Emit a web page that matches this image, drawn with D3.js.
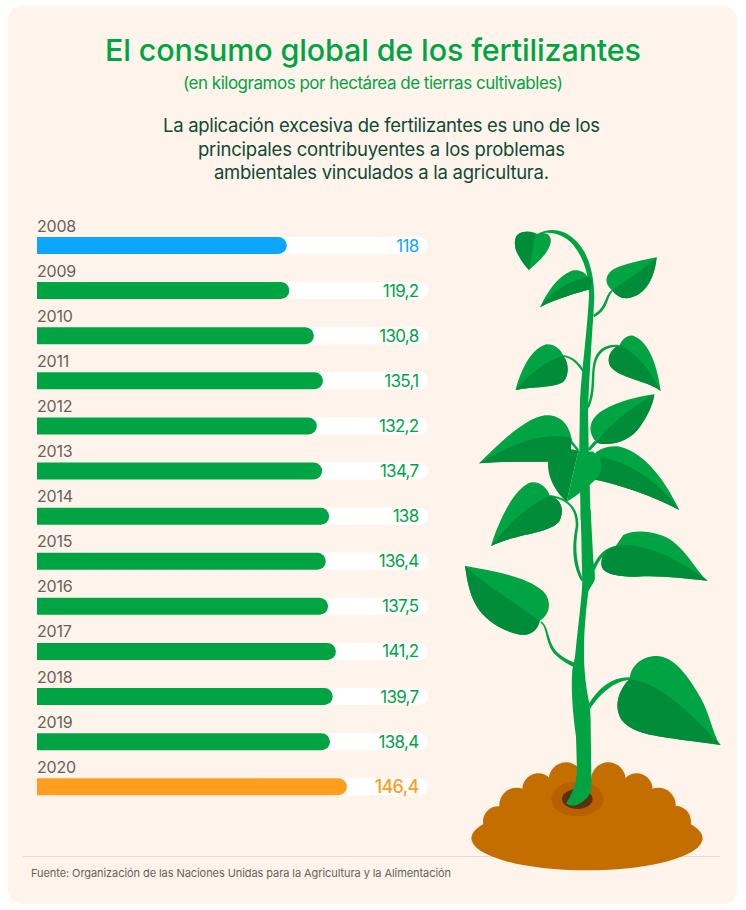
<!DOCTYPE html>
<html>
<head>
<meta charset="utf-8">
<script src="https://cdn.jsdelivr.net/npm/d3@7"></script>
<style>
html,body{margin:0;padding:0;background:#fff}
svg{display:block}
text{font-family:Inter,"Noto Sans",sans-serif}
</style>
</head>
<body>
<div id="chart"></div>
<script>
const years = ['2008','2009','2010','2011','2012','2013','2014','2015','2016','2017','2018','2019','2020']
const values = [118,119.2,130.8,135.1,132.2,134.7,138,136.4,137.5,141.2,139.7,138.4,146.4]
const value_labels = ['118','119,2','130,8','135,1','132,2','134,7','138','136,4','137,5','141,2','139,7','138,4','146,4']
const subtitle_lines = ['La aplicación excesiva de fertilizantes es uno de los','principales contribuyentes a los problemas','ambientales vinculados a la agricultura.']

const green = '#00a443', dark_leaf = '#008c38', blue = '#0da6ff', orange = '#ff9d1e'
const soil = '#c46e00'

function bar_color(i){
    if(i==0) return blue
    if(i==years.length-1) return orange
    return green
}

const svg = d3.select('#chart').append('svg').attr('width',746).attr('height',910)

// card
svg.append('rect').attr('x',8).attr('y',6).attr('width',729).attr('height',898).attr('rx',14).attr('fill','#fff4ec')

// header
function head(txt,cx,y,size,weight,color,len){
    svg.append('text').attr('x',cx).attr('y',y).attr('text-anchor','middle')
       .attr('font-size',size).attr('font-weight',weight).attr('fill',color)
       .attr('textLength',len).attr('lengthAdjust','spacing').text(txt)
}
head('El consumo global de los fertilizantes',373,61,30.5,500,green,536)
head('(en kilogramos por hectárea de tierras cultivables)',373,89,17,400,green,380)
head(subtitle_lines[0],381.5,132,18.5,400,'#0d4a34',437)
head(subtitle_lines[1],381.5,156,18.5,400,'#0d4a34',367)
head(subtitle_lines[2],381.5,179,18.5,400,'#0d4a34',335)

// scales
const x = d3.scaleLinear().domain([0,184.7]).range([37,428])
const y = d3.scaleBand().domain(years).range([237,795.3]).paddingInner(0.623).paddingOuter(0)

function bar_path(x0,x1,top,h){
    let r = h/2
    return 'M'+x0+','+top+'H'+(x1-r)+'A'+r+','+r+' 0 0 1 '+(x1-r)+','+(top+h)+'H'+x0+'Z'
}

const rows = svg.selectAll('.row').data(years).enter().append('g').attr('class','row')
rows.append('path').attr('fill','#fff')
    .attr('d',d=>bar_path(x(0),x.range()[1],y(d),y.bandwidth()))
rows.append('path').attr('fill',(d,i)=>bar_color(i))
    .attr('d',(d,i)=>bar_path(x(0),x(values[i]),y(d),y.bandwidth()))
rows.append('text').attr('x',x(0)).attr('y',d=>y(d)-5.5).attr('font-size',16)
    .attr('fill','#6b5f58').attr('letter-spacing',-0.2).text(d=>d)
rows.append('text').attr('x',418.5).attr('y',d=>y(d)+14.5).attr('text-anchor','end')
    .attr('font-size',(d,i)=>i==years.length-1?18:17)
    .attr('font-weight',(d,i)=>i==years.length-1?500:400)
    .attr('letter-spacing',-0.7)
    .attr('fill',(d,i)=>bar_color(i)).text((d,i)=>value_labels[i])

// footer
svg.append('line').attr('x1',23).attr('x2',720).attr('y1',856.5).attr('y2',856.5).attr('stroke','#e3dcd5')
svg.append('text').attr('x',31).attr('y',877).attr('font-size',11).attr('fill','#6b5f58')
   .attr('textLength',420).attr('lengthAdjust','spacing')
   .text('Fuente: Organización de las Naciones Unidas para la Agricultura y la Alimentación')

// soil at 3x
const soil_g = svg.append('g').attr('transform','translate(460,750) scale(0.3333)')
const bumps = [[318,89,52],[445,89,52],[530,118,48],[595,165,52],[645,215,48],[235,118,48],[170,165,52],[115,215,46]]
soil_g.append('path').attr('d','M'+d3.polygonHull(bumps.map(d=>[d[0],d[1]])).join('L')+'Z').attr('fill',soil)
soil_g.append('rect').attr('x',115).attr('y',215).attr('width',530).attr('height',60).attr('fill',soil)
soil_g.selectAll('circle').data(bumps).enter().append('circle')
    .attr('cx',d=>d[0]).attr('cy',d=>d[1]).attr('r',d=>d[2]).attr('fill',soil)
soil_g.append('ellipse').attr('cx',381).attr('cy',265).attr('rx',347).attr('ry',96).attr('fill',soil)
soil_g.append('ellipse').attr('cx',352).attr('cy',147).attr('rx',78).attr('ry',52).attr('fill','#b85f00')
soil_g.append('ellipse').attr('cx',352).attr('cy',147).attr('rx',46).attr('ry',30).attr('fill','#5a3208')

// plant: [light shape, dark shape]
const top_g = svg.append('g').attr('transform','translate(450,220) scale(0.3333)')
const low_g = svg.append('g').attr('transform','translate(450,510) scale(0.3333)')

const top_stems = [
 'M262,42C300,22 345,25 385,70C420,110 432,170 433,230L430,290C425,350 418,480 414,570L416,680L422,900L392,900L388,680L390,540C395,450 410,350 417,230C418,170 405,120 370,75C340,40 300,32 262,42Z',
 'M485,210C462,228 470,262 430,284L432,292C478,268 468,232 490,212Z',
 'M340,405C368,408 388,428 400,448L398,456C382,432 365,414 340,410Z',
 'M505,375C470,372 440,385 430,430C422,470 430,510 413,555L416,566C440,515 428,470 437,432C445,395 470,380 505,380Z',
 'M434,662L412,688L420,692L442,668Z',
 'M360,655L388,690L382,694L356,662Z'
]
const top_leaves = [
 ['M262,42C250,35 225,30 205,42C190,55 192,85 205,105C215,125 228,140 237,150C255,135 285,110 298,80C308,60 300,42 285,40C275,38 265,40 258,44Z',
  'M256,44C245,35 225,30 205,42C190,55 192,85 205,105C215,125 228,140 237,150Z'],
 ['M270,262C290,220 320,170 365,152C385,148 405,155 412,170L427,180L420,208C380,220 320,235 270,262Z',
  'M270,262C305,215 360,180 415,170L427,180L420,208C380,220 320,235 270,262Z'],
 ['M620,112C580,120 520,132 490,148C465,165 462,190 485,210C500,230 520,240 545,232C590,220 615,170 620,112Z',
  'M620,112C580,150 530,180 487,210C500,230 520,240 545,232C590,220 615,170 620,112Z'],
 ['M197,510C210,460 240,385 290,373C315,372 335,390 340,408C355,425 360,465 340,485C310,505 250,498 197,510Z',
  'M197,510C240,460 290,420 340,408C355,425 360,465 340,485C310,505 250,498 197,510Z'],
 ['M632,513C625,450 600,365 550,347C530,343 515,360 508,378C480,385 468,420 482,440C510,475 590,480 632,513Z',
  'M632,513C600,450 560,400 510,375C480,385 468,420 482,440C510,475 590,480 632,513Z'],
 ['M613,523C560,530 480,550 440,585C415,610 415,640 440,668C480,680 540,665 570,620C595,585 610,550 613,523Z',
  'M613,523C550,560 480,610 437,668C480,680 540,665 570,620C595,585 610,550 613,523Z'],
 ['M87,730C140,680 220,595 285,586C330,582 360,615 365,660L360,720C310,730 220,720 87,730Z',
  'M87,730C170,680 280,630 365,655L360,720C310,730 220,720 87,730Z'],
 ['M688,870C650,790 590,700 510,680C480,675 450,685 435,700C455,720 455,750 430,778C510,795 600,825 688,870Z',
  'M688,870C630,790 540,725 450,712C455,735 450,755 430,778C510,795 600,825 688,870Z'],
 ['M385,692L350,845C385,825 420,795 445,770C460,745 455,715 430,695Z',
  'M385,692C340,680 305,690 295,720C288,770 320,820 350,845Z']
]
const low_stems = [
 'M392,0L422,0C425,60 428,110 430,150C433,175 436,195 434,210C430,222 420,232 415,245C408,300 402,360 402,430C402,480 408,530 416,570C420,590 422,610 422,640L424,790C425,830 425,850 410,865C390,885 365,895 348,880C365,855 380,820 381,780L378,680C370,620 362,550 367,480L375,440C385,340 395,270 397,215Z',
 'M300,-45C350,-38 388,-10 385,50C372,120 382,170 400,208L394,214C372,175 362,125 377,50C380,-5 350,-32 300,-38Z',
 'M497,108C468,112 442,135 428,172L434,182C448,145 470,120 497,116Z',
 'M272,333C298,345 292,405 328,432C345,446 358,452 374,458L372,472C352,462 335,452 318,436C285,405 292,350 272,338Z',
 'M540,502C490,500 448,530 416,582L420,598C450,550 495,512 540,510Z'
]
const low_leaves = [
 ['M123,108C140,50 190,-70 245,-83C275,-85 295,-60 300,-42C330,-35 345,-5 330,30C310,70 200,70 123,108Z',
  'M123,108C170,50 230,-15 300,-42C330,-35 345,-5 330,30C310,70 200,70 123,108Z'],
 ['M773,212C740,185 715,130 670,95C630,65 560,55 520,75L497,108C470,115 450,135 455,170C465,195 510,200 560,200C630,195 700,205 773,212Z',
  'M773,212C700,160 610,105 520,105L497,110C470,115 450,135 455,170C465,195 510,200 560,200C630,195 700,205 773,212Z'],
 ['M45,167C110,180 220,195 275,240C305,265 305,310 270,332C265,360 240,378 210,374C160,365 100,330 75,280C55,240 50,200 45,167Z',
  'M45,167C110,230 200,280 268,332C265,360 240,378 210,374C160,365 100,330 75,280C55,240 50,200 45,167Z'],
 ['M812,705C790,680 780,610 750,560C710,490 670,440 620,438C575,438 540,470 540,505C505,540 490,590 515,630C555,680 640,680 812,705Z',
  'M812,705C740,630 640,520 540,507C505,540 490,590 515,630C555,680 640,680 812,705Z']
]

function draw_plant(g,stems,leaves){
    g.selectAll('.stem').data(stems).enter().append('path').attr('class','stem').attr('d',d=>d).attr('fill',green)
    leaves.forEach(function(l){
        g.append('path').attr('d',l[0]).attr('fill',green)
        g.append('path').attr('d',l[1]).attr('fill',dark_leaf)
    })
}
draw_plant(low_g,low_stems,low_leaves)
draw_plant(top_g,top_stems,top_leaves)
</script>
</body>
</html>
